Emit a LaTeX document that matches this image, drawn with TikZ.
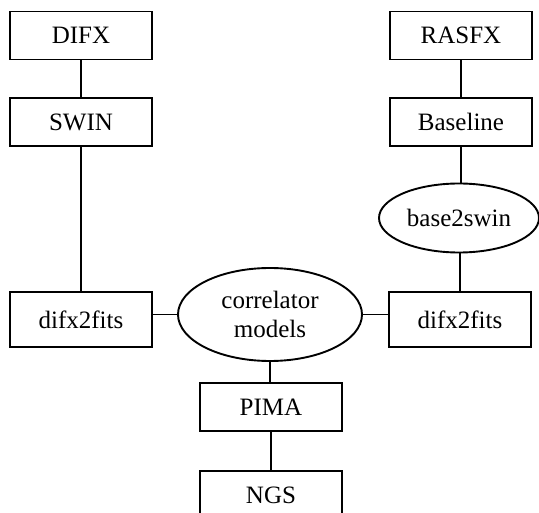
\documentclass[tikz,border=0pt]{standalone}
\usepackage{fontspec}
\setmainfont{Liberation Serif}
\usetikzlibrary{shapes.geometric}
\begin{document}
\begin{tikzpicture}[x=1pt,y=-1pt,
  box/.style={draw,line width=1.9pt,rectangle,minimum width=142pt,minimum height=48pt,inner sep=0pt,font=\fontsize{25}{29}\selectfont},
  oval/.style={draw,line width=1.9pt,ellipse,inner sep=0pt,font=\fontsize{25}{29}\selectfont,align=center},
  link/.style={line width=1.9pt}]
\useasboundingbox (0,0) rectangle (539,513);
\node[box] (difx) at (81,35.5) {DIFX};
\node[box] (swin) at (81,122) {SWIN};
\node[box] (rasfx) at (461,35.5) {RASFX};
\node[box,line width=2.8pt] (baseline) at (461,122) {Baseline};
\node[oval,minimum width=160pt,minimum height=69pt] (b2s) at (459,218) {base2swin};
\node[box,minimum height=55pt] (d2fl) at (81,319.5) {difx2fits};
\node[box,minimum height=55pt] (d2fr) at (460,319.5) {difx2fits};
\node[oval,minimum width=184pt,minimum height=93pt] (corr) at (270,314.5) {correlator\\models};
\node[box] (pima) at (271,407) {PIMA};
\node[box] (ngs) at (271,495) {NGS};
\draw[link] (difx) -- (swin);
\draw[link] (swin) -- (d2fl);
\draw[link] (rasfx) -- (baseline);
\draw[link] (baseline.south) -- (baseline.south |- b2s.north);
\draw[link] (b2s.south -| d2fr.north) -- (d2fr.north);
\draw[link] (d2fl.east |- corr.west) -- (corr.west);
\draw[link] (corr.east) -- (corr.east -| d2fr.west);
\draw[link] (corr.south) -- (corr.south |- pima.north);
\draw[link] (pima) -- (ngs);
\end{tikzpicture}
\end{document}
